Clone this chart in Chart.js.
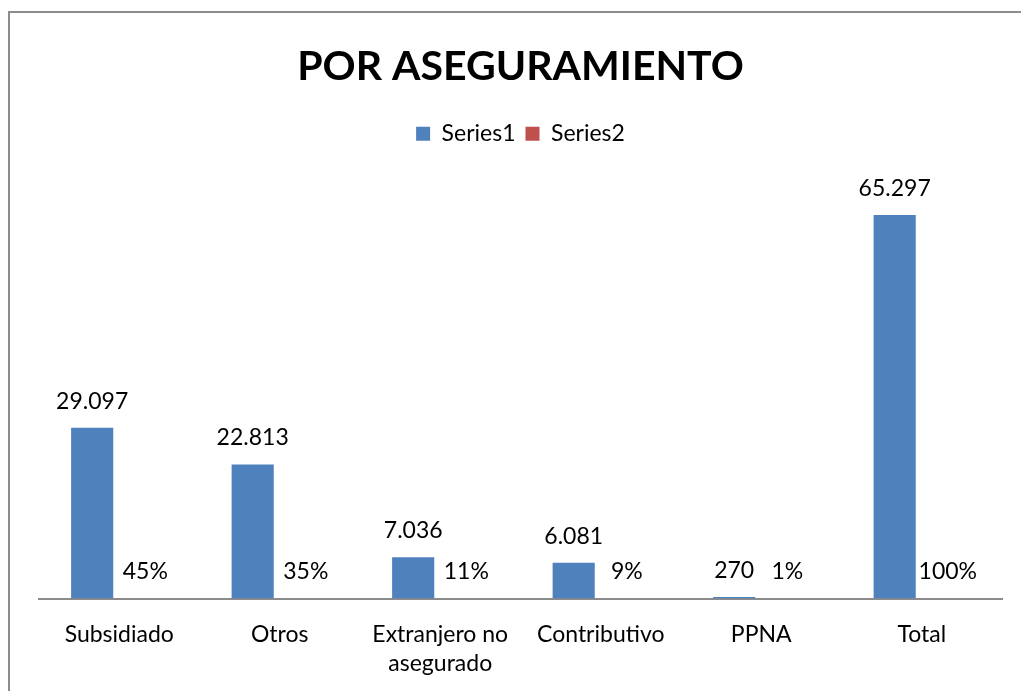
<!DOCTYPE html>
<html>
<head>
<meta charset="utf-8">
<script src="https://cdn.jsdelivr.net/npm/chart.js@4"></script>
<style>
  html, body { margin: 0; padding: 0; background: #fff; overflow: hidden; }
  #frame { position: absolute; left: 8px; top: 11px; width: 1040px; height: 720px;
           border-left: 2px solid #8c8c8c; border-top: 2px solid #8c8c8c; }
  #wrap { position: absolute; left: 0; top: 0; width: 1021px; height: 691px; }
</style>
</head>
<body>
<div id="frame"></div>
<div id="wrap"><canvas id="myChart" width="1021" height="691"></canvas></div>
<script>
// categories and values
const categories = ['Subsidiado', 'Otros', ['Extranjero no', 'asegurado'], 'Contributivo', 'PPNA', 'Total'];
const series1 = [29097, 22813, 7036, 6081, 270, 65297];
const series2 = [0.45, 0.35, 0.11, 0.09, 0.01, 1.00];

const fontFam = 'Lato, "Open Sans", sans-serif';

function fmtMiles(v) {
    return String(v).replace(/\B(?=(\d{3})+(?!\d))/g, '.');
}

// bars sit a little left of the category centre in the original,
// and the value labels are drawn by hand (no datalabels plugin here)
const barLabels = {
    id: 'barLabels',
    beforeDatasetsDraw(chart) {
        chart.ctx.save();
        chart.ctx.translate(-6, 0);
    },
    afterDatasetsDraw(chart) {
        const ctx = chart.ctx;
        ctx.fillStyle = '#000';
        ctx.font = '23px ' + fontFam;
        ctx.textAlign = 'center';
        ctx.textBaseline = 'bottom';
        chart.data.datasets.forEach((ds, i) => {
            const meta = chart.getDatasetMeta(i);
            meta.data.forEach((bar, j) => {
                const v = ds.data[j];
                const txt = i === 0 ? fmtMiles(v) : Math.round(v * 100) + '%';
                const dx = i === 0 ? 0 : 11;
                ctx.fillText(txt, bar.x + dx, bar.y - 15);
            });
        });
        ctx.restore();
    }
};

const ctx = document.getElementById('myChart');
new Chart(ctx, {
    type: 'bar',
    data: {
        labels: categories,
        datasets: [{
            label: 'Series1',
            data: series1,
            backgroundColor: '#4F81BD',
            borderWidth: 0
        }, {
            label: 'Series2',
            data: series2,
            backgroundColor: '#C0504D',
            borderWidth: 0
        }]
    },
    options: {
        responsive: false,
        animation: false,
        devicePixelRatio: 1,
        layout: { padding: { left: 39, right: 19, top: 30, bottom: -9 } },
        datasets: {
            bar: { categoryPercentage: 0.525, barPercentage: 1 }
        },
        plugins: {
            title: {
                display: true,
                text: 'POR ASEGURAMIENTO',
                color: '#000',
                font: { family: fontFam, size: 41, weight: 'bold' },
                padding: { top: 12, bottom: 21 }
            },
            legend: {
                display: true,
                labels: {
                    color: '#000',
                    font: { family: fontFam, size: 23 },
                    boxWidth: 14,
                    boxHeight: 14,
                    padding: 10
                }
            },
            tooltip: { enabled: false }
        },
        scales: {
            x: {
                grid: { display: false, drawTicks: false },
                border: { display: true, color: '#8c8c8c', width: 2 },
                ticks: {
                    color: '#000',
                    font: { family: fontFam, size: 23, lineHeight: 1.25 },
                    padding: 22,
                    maxRotation: 0
                }
            },
            y: {
                display: false,
                min: 0,
                max: 75500
            }
        }
    },
    plugins: [barLabels]
});
</script>
</body>
</html>
